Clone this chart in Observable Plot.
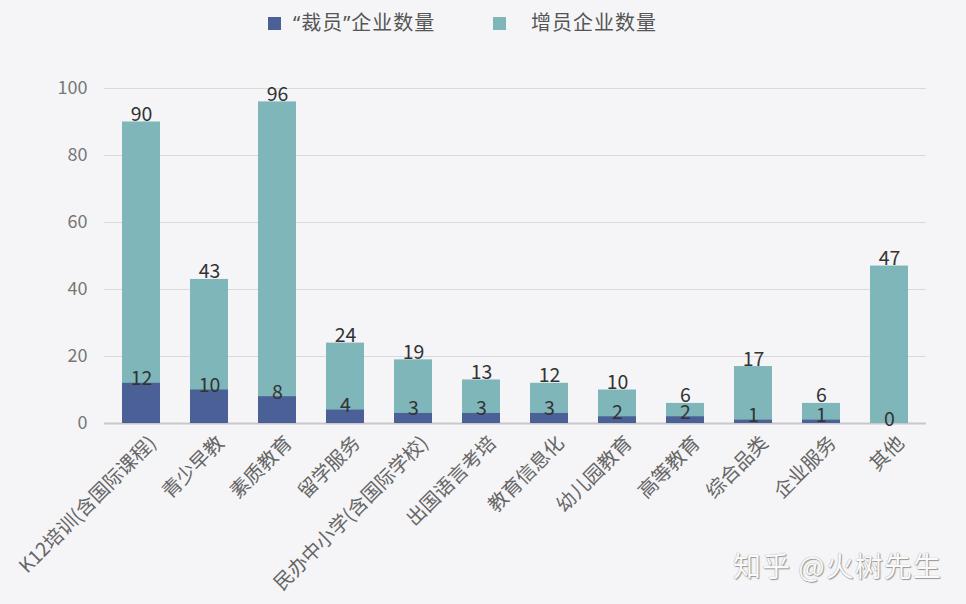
<!DOCTYPE html>
<html>
<head>
<meta charset="utf-8">
<script src="https://cdn.jsdelivr.net/npm/d3@7"></script>
<script src="https://cdn.jsdelivr.net/npm/@observablehq/plot@0.6"></script>
<style>
  html, body { margin: 0; padding: 0; background: #f5f5f7; }
  body { width: 966px; height: 604px; overflow: hidden; position: relative;
         font-family: "Noto Sans CJK SC", "Noto Sans", sans-serif; }
  #legend { height: 48px; position: relative; }
  .item { position: absolute; top: 10px; display: flex; align-items: center;
          font-size: 20px; color: #555; line-height: 26px; }
  .item .t { font-family: "Noto Sans", "Noto Sans CJK SC", sans-serif; letter-spacing: 1px; }
  .sw { width: 13px; height: 13px; display: inline-block; }
  #wm { position: absolute; left: 733px; top: 545px; font-size: 28px; color: #fafafa;
        letter-spacing: 1px;
        text-shadow: 0 0 1px #888, 1px 1px 1px #999; }
</style>
</head>
<body>
<div id="legend"></div>
<div id="chart"></div>
<div id="wm">知乎 @火树先生</div>
<script>
const categories = ["K12培训(含国际课程)","青少早教","素质教育","留学服务","民办中小学(含国际学校)","出国语言考培","教育信息化","幼儿园教育","高等教育","综合品类","企业服务","其他"];
const layoffs = [12,10,8,4,3,3,3,2,2,1,1,0];
const hires = [90,43,96,24,19,13,12,10,6,17,6,47];
const seriesNames = ["“裁员”企业数量", "增员企业数量"];
const colors = ["#4b6096", "#7fb6ba"];
const yTicks = [0,20,40,60,80,100];

const data = categories.map((c, i) => ({cat: c, layoff: layoffs[i], hire: hires[i]}));

// legend
const legend = document.getElementById("legend");
const lpos = [268, 493];
const tgap = [12, 25];
seriesNames.forEach((n, i) => {
  const d = document.createElement("div");
  d.className = "item";
  d.style.left = lpos[i] + "px";
  d.innerHTML = `<span class="sw" style="background:${colors[i]}"></span><span class="t" style="margin-left:${tgap[i]}px">${n}</span>`;
  legend.appendChild(d);
});

const chart = Plot.plot({
  width: 966,
  height: 556,
  marginTop: 40,
  marginBottom: 181,
  marginLeft: 104,
  marginRight: 40,
  style: {background: "transparent", fontFamily: "Noto Sans CJK SC, sans-serif"},
  x: {domain: categories, paddingInner: 0.44, paddingOuter: 0.25, label: null},
  y: {domain: [0, 100], label: null},
  marks: [
    Plot.gridY(yTicks, {stroke: "#d9d9dc", strokeOpacity: 1, strokeWidth: 1}),
    Plot.ruleY([0], {stroke: "#c8c8cc", strokeWidth: 2}),
    Plot.axisY({ticks: yTicks, tickSize: 0, fontSize: 18, fill: "#777", dx: -8, dy: 0}),
    Plot.axisX({tickSize: 0, fontSize: 19.5, fill: "#666", rotate: -45, textAnchor: "end", dx: 6, dy: 2}),
    Plot.barY(data, {x: "cat", y: "hire", fill: colors[1]}),
    Plot.barY(data, {x: "cat", y: "layoff", fill: colors[0]}),
    Plot.text(data, {x: "cat", y: "hire", text: d => String(d.hire), lineAnchor: "bottom", dy: -1, fontSize: 19.5, fill: "#333"}),
    Plot.text(data, {x: "cat", y: "layoff", text: d => String(d.layoff), lineAnchor: "bottom", dy: 2, fontSize: 19.5, fill: "#333"})
  ]
});
document.getElementById("chart").appendChild(chart);
</script>
</body>
</html>
